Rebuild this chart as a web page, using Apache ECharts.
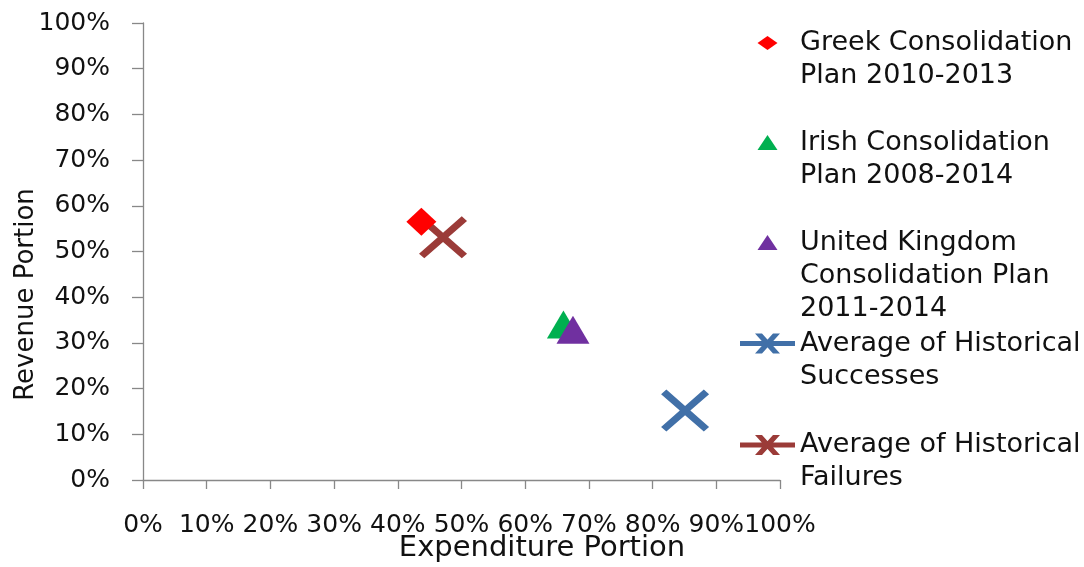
<!DOCTYPE html>
<html>
<head>
<meta charset="utf-8">
<script src="https://cdn.jsdelivr.net/npm/echarts@6/dist/echarts.min.js"></script>
<style>html,body{margin:0;padding:0;background:#fff}#c{width:1084px;height:567px}</style>
</head>
<body>
<div id="c"></div>
<script>
const seriesNames = [
  'Greek Consolidation\nPlan 2010-2013',
  'Irish Consolidation\nPlan 2008-2014',
  'United Kingdom\nConsolidation Plan\n2011-2014',
  'Average of Historical\nSuccesses',
  'Average of Historical\nFailures'
];
const expenditure = [43.7, 66.0, 67.5, 85.1, 47.1];
const revenue = [56.5, 34.0, 32.9, 15.2, 53.1];
const tickLabels = ['0%','10%','20%','30%','40%','50%','60%','70%','80%','90%','100%'];

const colors = ['#FF0000', '#00B050', '#7030A0', '#4170A8', '#9B3B38'];
const xPath = 'path://M0,11 L11,0 L50,39 L89,0 L100,11 L61,50 L100,89 L89,100 L50,61 L11,100 L0,89 L39,50 Z';
const symbols = ['diamond', 'triangle', 'triangle', xPath, xPath];
const sizes = [[30, 28], [33, 28], [33, 28], [48, 42], [48, 42]];
const zs = [4, 5, 6, 2, 3];

// legend icons (drawn by the legend, kept to the reference's proportions)
const diamondIcon = 'path://M0,7 L10,0 L20,7 L10,14 Z';
const triangleIcon = 'path://M10,0 L20,15 L0,15 Z';
const lineXIcon = 'path://M0,7.5 L55,7.5 L55,12.5 L0,12.5 Z M15,0 L22,0 L40,20 L33,20 Z M33,0 L40,0 L22,20 L15,20 Z';
const legendIcons = [diamondIcon, triangleIcon, triangleIcon, lineXIcon, lineXIcon];
const legendIconH = [14, 15, 15, 20, 20];
const legendIconW = [20, 20, 20, 55, 55];
const iconCenters = [43, 142.5, 242.5, 343.5, 445];

const FONT = 'DejaVu Sans';
const LH = 33;

const series = seriesNames.map((name, i) => ({
  name: name,
  type: 'scatter',
  data: [[expenditure[i], revenue[i]]],
  symbol: symbols[i],
  symbolSize: sizes[i],
  itemStyle: { color: colors[i], opacity: 1 },
  z: zs[i],
  emphasis: { disabled: true },
  silent: true,
  animation: false
}));

const legends = seriesNames.map((name, i) => {
  const n = name.split('\n').length;
  return {
    data: [{ name: name, icon: legendIcons[i], itemStyle: { color: colors[i] } }],
    orient: 'vertical',
    left: 740 + (55 - legendIconW[i]) / 2,
    top: iconCenters[i] - (2 * n - 1) * LH / 2,
    padding: 0,
    itemWidth: 55,
    itemHeight: legendIconH[i],
    symbolKeepAspect: true,
    selectedMode: false,
    formatter: nm => '\n'.repeat(n - 1) + nm,
    textStyle: { fontFamily: FONT, fontSize: 27, color: '#111', lineHeight: LH }
  };
});

const axisCommon = {
  type: 'value', min: 0, max: 100, interval: 10,
  splitLine: { show: false },
  axisLine: { show: true, lineStyle: { color: '#888', width: 1.3 } },
  axisLabel: { fontFamily: FONT, fontSize: 25, color: '#111', formatter: v => tickLabels[Math.round(v / 10)],
               showMinLabel: true, showMaxLabel: true, hideOverlap: false },
  nameLocation: 'middle',
  nameMoveOverlap: false
};

const option = {
  animation: false,
  backgroundColor: '#fff',
  grid: { left: 143, right: 304, top: 23, bottom: 87, containLabel: false, outerBoundsMode: 'none' },
  xAxis: Object.assign({}, axisCommon, {
    name: 'Expenditure Portion',
    nameGap: 54,
    axisTick: { show: true, length: 9, lineStyle: { color: '#888', width: 1.3 } },
    axisLabel: Object.assign({}, axisCommon.axisLabel, { margin: 33 }),
    nameTextStyle: { fontFamily: FONT, fontSize: 29, color: '#111', padding: [0, 0, 0, 161] }
  }),
  yAxis: Object.assign({}, axisCommon, {
    name: 'Revenue Portion',
    nameGap: 104,
    axisTick: { show: true, length: 11, lineStyle: { color: '#888', width: 1.3 } },
    axisLabel: Object.assign({}, axisCommon.axisLabel, { margin: 33 }),
    nameTextStyle: { fontFamily: FONT, fontSize: 26, color: '#111', padding: [0, 86, 0, 0] }
  }),
  legend: legends,
  series: series
};

const chart = echarts.init(document.getElementById('c'), null, { renderer: 'canvas' });
chart.setOption(option);
</script>
</body>
</html>
